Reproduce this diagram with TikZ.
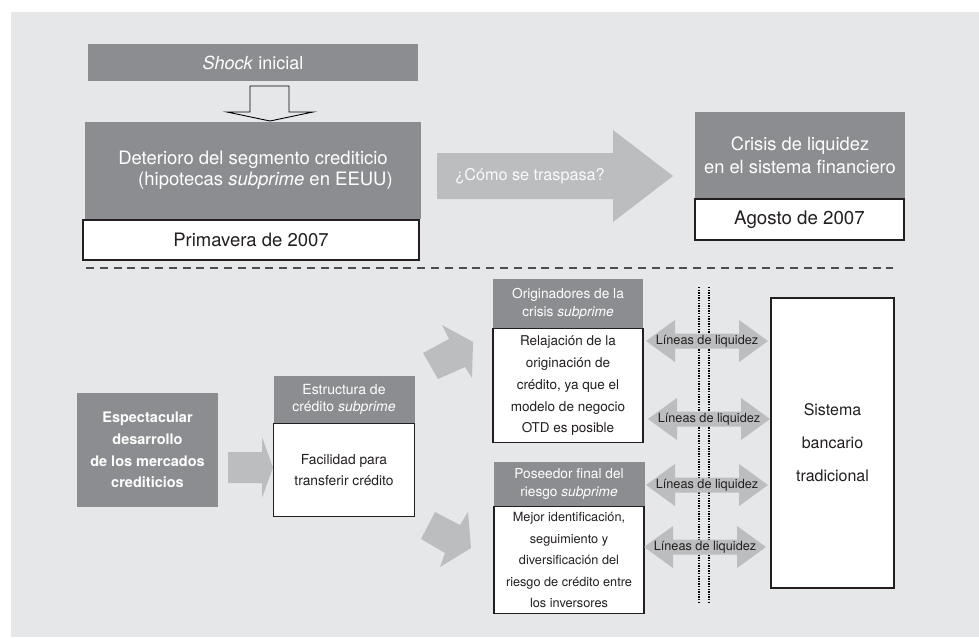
\documentclass[tikz,border=0pt]{standalone}
\usepackage{fontspec}
\setmainfont{TeX Gyre Heros}
\usetikzlibrary{positioning}
\definecolor{fondo}{HTML}{E6E7E8}
\definecolor{oscuro}{HTML}{8C8D90}
\definecolor{claro}{HTML}{BCBDBF}
\definecolor{tinta}{HTML}{231F20}
\newcommand{\tam}[2]{\fontsize{#1}{#2}\selectfont}

\begin{document}
\begin{tikzpicture}[x=1pt,y=-1pt,
    caja/.style={fill=oscuro, text=white, inner sep=0pt, align=center},
    blanca/.style={fill=white, draw=tinta, line width=1.1pt, text=tinta, inner sep=0pt, align=center},
    flecha/.style={fill=claro}]
  \useasboundingbox (0,0) rectangle (979,637);
  \fill[fondo] (11,12) rectangle (979,637);

  % parte superior
  \node[caja, minimum width=330pt, minimum height=37pt, font=\tam{18}{21}] (shock) at (253,62.5) {\textit{Shock} inicial};
  \node[caja, minimum width=336pt, minimum height=97pt, font=\tam{18.5}{21}] (deterioro) at (253,170.5)
    {Deterioro del segmento crediticio\\\hspace*{25pt}(hipotecas \textit{subprime} en EEUU)};
  \node[blanca, minimum width=336pt, minimum height=40pt, font=\tam{18.5}{21}] (primavera) at (251,240) {Primavera de 2007};
  \draw[line width=0.9pt, fill=fondo] (250,86) -- (289,86) -- (289,112) -- (313,112) -- (270,121)
    -- (227,112) -- (250,112) -- cycle;

  \fill[flecha] (437,153) -- (613,153) -- (613,130) -- (673,176) -- (613,222) -- (613,199) -- (437,199) -- cycle;
  \node[text=white!92!claro, font=\tam{16.2}{19}] (traspasa) at (530,176) {¿Cómo se traspasa?};

  \node[caja, minimum width=210pt, minimum height=87pt, font=\tam{18.3}{23}] (crisis) at (800,155.5)
    {Crisis de liquidez\\en el sistema financiero};
  \node[blanca, minimum width=209pt, minimum height=41pt, font=\tam{18.7}{21}] (agosto) at (799.5,219.5) {Agosto de 2007};

  \draw[tinta!80, line width=1.3pt, dash pattern=on 8pt off 5.8pt] (86,268) -- (893,268);

  % parte inferior
  \node[caja, minimum width=141pt, minimum height=114pt, font=\bfseries\tam{14.5}{21.7}] (espectacular) at (147.5,450)
    {Espectacular\\desarrollo\\de los mercados\\crediticios};
  \fill[flecha] (228,452) -- (262,452) -- (262,437) -- (273,467.5) -- (262,498) -- (262,483) -- (228,483) -- cycle;

  \node[caja, minimum width=141pt, minimum height=47pt, font=\tam{14}{17}] (estructura) at (344,399.5)
    {Estructura de\\crédito \textit{subprime}};
  \node[blanca, minimum width=141pt, minimum height=93pt, font=\tam{13.8}{21}, below=0pt of estructura] (facilidad)
    {Facilidad para\\transferir crédito};

  \fill[flecha] (423,353) -- (449,339) -- (442,325) -- (473,342) -- (472,378) -- (465,367) -- (438,379) -- cycle;
  \fill[flecha] (421,539) -- (435,512) -- (460,525) -- (468,512) -- (471,548) -- (440,567) -- (445,553) -- cycle;

  \node[caja, minimum width=150pt, minimum height=49pt, font=\tam{13.7}{18}] (originadores) at (568,303.5)
    {Originadores de la\\crisis \textit{subprime}};
  \node[blanca, minimum width=150pt, minimum height=114pt, font=\tam{13.5}{21.8}, below=0pt of originadores] (relajacion)
    {Relajación de la\\originación de\\crédito, ya que el\\modelo de negocio\\OTD es posible};
  \node[caja, minimum width=151pt, minimum height=44pt, font=\tam{13.7}{18}] (poseedor) at (569,484)
    {Poseedor final del\\riesgo \textit{subprime}};
  \node[blanca, minimum width=150pt, minimum height=107pt, font=\tam{12.7}{21.5}, below=0pt of poseedor] (mejor)
    {Mejor identificación,\\seguimiento y\\diversificación del\\riesgo de crédito entre\\los inversores};

  \draw[line width=1.8pt, dash pattern=on 1.3pt off 1.3pt] (699,287) -- (699,602);
  \draw[line width=1.8pt, dash pattern=on 1.3pt off 1.3pt] (709,287) -- (709,602);

  \foreach \n/\x/\y in {1/646/341, 2/648/419, 3/646/485, 4/644/547} {
    \fill[flecha] (\x,\y) -- ++(29,-21) -- ++(0,13.5) -- ++(64,0) -- ++(0,-13.5) -- ++(29,21)
      -- ++(-29,21) -- ++(0,-13.5) -- ++(-64,0) -- ++(0,13.5) -- cycle;
    \node[text=tinta, font=\tam{12.7}{15}] (lineas\n) at (\x+61,\y) {Líneas de liquidez};
  }

  \node[blanca, line width=1.5pt, minimum width=123pt, minimum height=290pt, font=\tam{16}{33}] (sistema) at (832.5,443)
    {Sistema\\bancario\\tradicional};
\end{tikzpicture}
\end{document}
